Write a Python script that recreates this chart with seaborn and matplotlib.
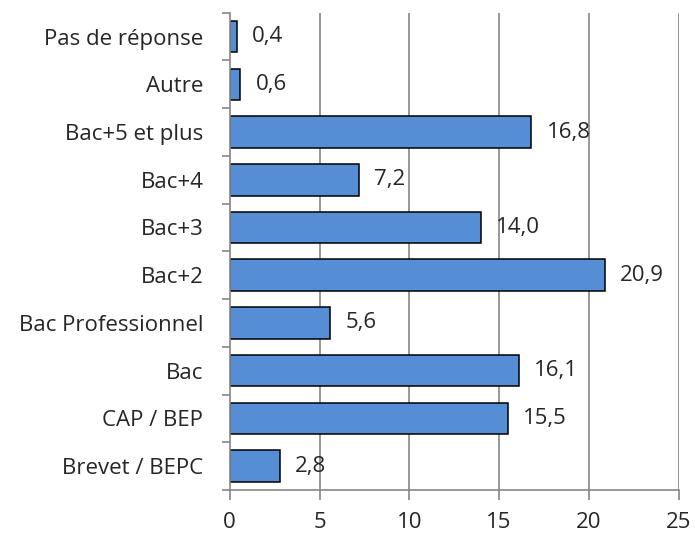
import matplotlib
matplotlib.use("Agg")
import matplotlib.pyplot as plt
import seaborn as sns
import pandas as pd
import numpy as np

categories = ["Pas de réponse", "Autre", "Bac+5 et plus", "Bac+4", "Bac+3", "Bac+2",
              "Bac Professionnel", "Bac", "CAP / BEP", "Brevet / BEPC"]
values = [0.4, 0.6, 16.8, 7.2, 14.0, 20.9, 5.6, 16.1, 15.5, 2.8]
value_labels = ["0,4", "0,6", "16,8", "7,2", "14,0", "20,9", "5,6", "16,1", "15,5", "2,8"]
xticks = [0, 5, 10, 15, 20, 25]

sns.set_theme(style="white")
plt.rcParams["font.family"] = ["Open Sans", "DejaVu Sans"]

df = pd.DataFrame({"cat": categories, "val": values})

fig = plt.figure(figsize=(6.95, 5.34), dpi=100)
ax = fig.add_axes([0.3305, 0.0824, 0.9766 - 0.3305, 0.9762 - 0.0824])

sns.barplot(data=df, y="cat", x="val", orient="h", color="#558ED5", saturation=1,
            edgecolor="black", linewidth=1.1, width=0.66, ax=ax, zorder=3)

fs = 16
ax.set_xlim(0, 25)
ax.set_ylim(len(categories) - 0.5, -0.5)
ax.set_xticks(xticks)
ax.set_xticklabels([str(t) for t in xticks], fontsize=fs)
ax.set_xlabel("")
ax.set_ylabel("")
ax.tick_params(axis="y", which="major", length=0, pad=19, labelsize=fs)
ax.set_yticks(np.arange(-0.5, len(categories), 1), minor=True)
ax.tick_params(axis="y", which="minor", length=6, color="#868686", width=1.2, direction="out")
ax.tick_params(axis="x", which="major", length=7, color="#868686", width=1.2, direction="out", pad=9)
ax.tick_params(axis="y", which="both", left=True)
ax.tick_params(axis="x", which="both", bottom=True)

for x in xticks[1:]:
    ax.axvline(x, color="#868686", lw=1.2, zorder=1)

for s in ["top", "right"]:
    ax.spines[s].set_visible(False)
for s in ["left", "bottom"]:
    ax.spines[s].set_color("#868686")
    ax.spines[s].set_linewidth(1.2)
    ax.spines[s].set_zorder(4)

for i, (v, lab) in enumerate(zip(values, value_labels)):
    ax.annotate(lab, xy=(v, i), xytext=(11, 0), textcoords="offset points",
                ha="left", va="center", fontsize=fs, zorder=5)

fig.savefig("out.png", dpi=100)
